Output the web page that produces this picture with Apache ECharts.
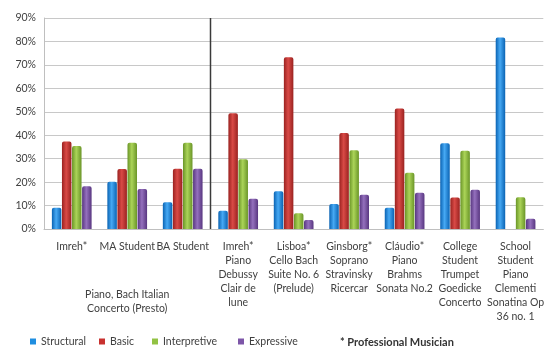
<!DOCTYPE html>
<html><head><meta charset="utf-8">
<script src="https://cdn.jsdelivr.net/npm/echarts@6/dist/echarts.min.js"></script>
<style>html,body{margin:0;padding:0;background:#fff}#c{width:547px;height:349px}</style>
</head><body><div id="c"></div>
<script>
const categories = [
  'Imreh*',
  'MA Student',
  'BA Student',
  'Imreh*\nPiano\nDebussy\nClair de\nlune',
  'Lisboa*\nCello Bach\nSuite No. 6\n(Prelude)',
  'Ginsborg*\nSoprano\nStravinsky\nRicercar',
  'Cláudio*\nPiano\nBrahms\nSonata No.2',
  'College\nStudent\nTrumpet\nGoedicke\nConcerto',
  'School\nStudent\nPiano\nClementi\nSonatina Op\n36 no. 1'
];
const seriesNames = ['Structural', 'Basic', 'Interpretive', 'Expressive'];
const structural  = [9.1, 20.2, 11.4, 7.8, 16.1, 10.7, 9.1, 36.6, 81.7];
const basic       = [37.3, 25.6, 25.7, 49.4, 73.3, 41.0, 51.4, 13.4, 0];
const interpretive= [35.4, 36.8, 36.8, 29.8, 6.7, 33.6, 24.0, 33.4, 13.5];
const expressive  = [18.2, 17.1, 25.7, 12.9, 3.8, 14.6, 15.5, 16.7, 4.4];
const yMin = 0, yMax = 90, yStep = 10;
const groupLabel = 'Piano, Bach Italian\nConcerto (Presto)';
const noteText = '* Professional Musician';

const FONT = 'Lato';
const FS = 10.5;
const TXT = '#404040';
const palette = [
  {base:'#1f8ee0', edge:'#0a63b3', mid:'#46a9f4'},
  {base:'#c8312f', edge:'#9a2220', mid:'#d94a46'},
  {base:'#92c244', edge:'#6a9528', mid:'#abd458'},
  {base:'#7d56a8', edge:'#583680', mid:'#9470bd'}
];
function grad(p){
  return new echarts.graphic.LinearGradient(0,0,1,0,[
    {offset:0,color:p.edge},{offset:0.45,color:p.mid},{offset:1,color:p.edge}
  ]);
}
const values = [structural, basic, interpretive, expressive];
const legendLefts = [30, 99, 152, 238];

const chart = echarts.init(document.getElementById('c'), null, {renderer:'canvas'});
const option = {
  animation:false,
  backgroundColor:'#ffffff',
  textStyle:{fontFamily:FONT},
  grid:{left:44, right:2, top:18, bottom:120, containLabel:false},
  legend: seriesNames.map((n,i)=>({
    data:[{name:n, itemStyle:{color:palette[i].base}}],
    left:legendLefts[i], top:336, padding:0,
    icon:'rect', itemWidth:6, itemHeight:6,
    textStyle:{fontFamily:FONT, fontSize:FS, color:TXT},
    selectedMode:false
  })),
  xAxis:{
    type:'category', data:categories,
    axisLine:{lineStyle:{color:'#bfbfbf'}},
    axisTick:{show:false},
    axisLabel:{interval:0, fontFamily:FONT, fontSize:FS, color:TXT, lineHeight:14, margin:11, align:'center'}
  },
  yAxis:{
    type:'value', min:yMin, max:yMax, interval:yStep,
    axisLine:{show:true, lineStyle:{color:'#bfbfbf'}},
    axisTick:{show:false},
    splitLine:{lineStyle:{color:'#c8c8c8'}},
    axisLabel:{formatter:'{value}%', fontFamily:FONT, fontSize:FS, color:TXT, margin:8}
  },
  series: seriesNames.map((n,i)=>({
    name:n, type:'bar', data:values[i],
    barWidth:9.5, barGap:'6%',
    itemStyle:{color:grad(palette[i]), borderRadius:[2,2,0,0]}
  }))
};
chart.setOption(option);

const xA = chart.convertToPixel({xAxisIndex:0}, 2);
const xB = chart.convertToPixel({xAxisIndex:0}, 3);
const sepX = Math.round((xA + xB)/2) + 0.5;
const yTop = chart.convertToPixel({yAxisIndex:0}, yMax);
const yBot = chart.convertToPixel({yAxisIndex:0}, yMin);
const gx = chart.convertToPixel({xAxisIndex:0}, 1);
chart.setOption({
  graphic:[
    {type:'line', shape:{x1:sepX, y1:yTop, x2:sepX, y2:yBot}, style:{stroke:'#3a3a3a', lineWidth:1.5}, z:10},
    {type:'text', x:gx, y:yBot + 59, style:{text:groupLabel, fill:TXT, font:FS+'px '+FONT, textAlign:'center', textVerticalAlign:'top', lineHeight:14}},
    {type:'text', x:340, y:342, style:{text:noteText, fill:'#333', font:'bold 11px '+FONT, textAlign:'left', textVerticalAlign:'middle'}}
  ]
});
</script></body></html>
